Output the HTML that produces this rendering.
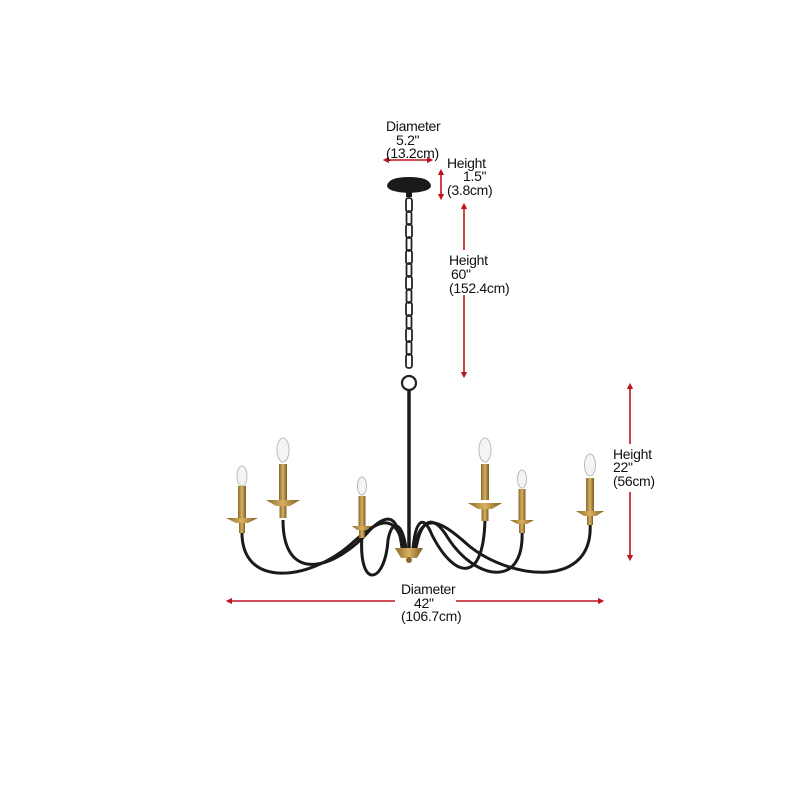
<!DOCTYPE html>
<html><head><meta charset="utf-8"><style>
html,body{margin:0;padding:0;background:#fff;width:800px;height:800px;overflow:hidden}
svg{display:block}
text{font-family:"Liberation Sans",sans-serif;font-size:14px;fill:#111;letter-spacing:-0.3px}
</style></head><body>
<svg width="800" height="800" viewBox="0 0 800 800" xmlns="http://www.w3.org/2000/svg">
<defs>
<linearGradient id="g" x1="0" x2="1"><stop offset="0" stop-color="#8a6a2a"/><stop offset=".5" stop-color="#d8b060"/><stop offset="1" stop-color="#7a5a20"/></linearGradient>
<marker id="a" viewBox="0 0 6 6" refX="3" refY="3" markerWidth="4" markerHeight="4" orient="auto-start-reverse"><path d="M0,0L6,3L0,6z" fill="#c0141e"/></marker>
</defs>
<g stroke="#c0141e" stroke-width="1.6" fill="none">
<line x1="386" y1="160" x2="430" y2="160" marker-start="url(#a)" marker-end="url(#a)"/>
<line x1="441" y1="172" x2="441" y2="197" marker-start="url(#a)" marker-end="url(#a)"/>
<line x1="464" y1="206" x2="464" y2="250" marker-start="url(#a)"/>
<line x1="464" y1="295" x2="464" y2="375" marker-end="url(#a)"/>
<line x1="630" y1="386" x2="630" y2="444" marker-start="url(#a)"/>
<line x1="630" y1="492" x2="630" y2="558" marker-end="url(#a)"/>
<line x1="229" y1="601" x2="395" y2="601" marker-start="url(#a)"/>
<line x1="456" y1="601" x2="601" y2="601" marker-end="url(#a)"/>
</g>
<text x="386" y="131">Diameter</text>
<text x="396" y="145">5.2"</text>
<text x="386" y="158">(13.2cm)</text>
<text x="447" y="168">Height</text>
<text x="463" y="181">1.5"</text>
<text x="447" y="195">(3.8cm)</text>
<text x="449" y="265">Height</text>
<text x="451" y="279">60"</text>
<text x="449" y="293">(152.4cm)</text>
<text x="613" y="459">Height</text>
<text x="613" y="472">22"</text>
<text x="613" y="486">(56cm)</text>
<text x="401" y="594">Diameter</text>
<text x="414" y="608">42"</text>
<text x="401" y="621">(106.7cm)</text>
<path d="M387,186 Q388,177 409,177 Q430,177 431,186 Q430,192 409,193 Q388,192 387,186z" fill="#1a1a1a"/>
<rect x="406" y="192" width="6" height="5" fill="#1a1a1a"/>
<g fill="none" stroke="#222" stroke-width="1.8">
<rect x="406" y="198" width="6" height="14" rx="2.5"/><rect x="406.5" y="211" width="5" height="14" rx="2.5"/>
<rect x="406" y="224" width="6" height="14" rx="2.5"/><rect x="406.5" y="237" width="5" height="14" rx="2.5"/>
<rect x="406" y="250" width="6" height="14" rx="2.5"/><rect x="406.5" y="263" width="5" height="14" rx="2.5"/>
<rect x="406" y="276" width="6" height="14" rx="2.5"/><rect x="406.5" y="289" width="5" height="14" rx="2.5"/>
<rect x="406" y="302" width="6" height="14" rx="2.5"/><rect x="406.5" y="315" width="5" height="14" rx="2.5"/>
<rect x="406" y="328" width="6" height="14" rx="2.5"/><rect x="406.5" y="341" width="5" height="14" rx="2.5"/>
<rect x="406" y="354" width="6" height="14" rx="2.5"/>
<circle cx="409" cy="383" r="7" stroke-width="2.2"/>
</g>
<line x1="409" y1="390" x2="409" y2="548" stroke="#1a1a1a" stroke-width="3.5"/>
<g fill="none" stroke="#1a1a1a" stroke-width="3">
<path d="M242,530 C240,590 310,580 350,545 C380,518 395,512 404,548"/>
<path d="M283,520 C283,585 335,570 370,530 C388,512 398,515 402,548"/>
<path d="M362,535 C358,590 385,585 388,540 C392,518 402,522 406,548"/>
<path d="M485,515 C485,585 455,580 432,535 C424,515 416,518 413,548"/>
<path d="M522,530 C525,590 475,580 448,538 C434,515 422,516 416,548"/>
<path d="M590,522 C595,590 510,580 468,545 C438,518 422,512 414,548"/>
</g>
<path d="M395,548 L423,548 L417,558 L401,558z" fill="url(#g)"/>
<circle cx="409" cy="560" r="3" fill="#8a6a2a"/>
<g transform="translate(242,0)"><ellipse cx="0" cy="476" rx="5" ry="10" fill="#f4f4f4" stroke="#bbb"/><rect x="-4" y="486" width="8" height="32" fill="url(#g)"/><path d="M-16,518 L16,518 L6,523 L-6,523z" fill="url(#g)"/><rect x="-3" y="523" width="6" height="10" fill="url(#g)"/></g>
<g transform="translate(283,0)"><ellipse cx="0" cy="450" rx="6" ry="12" fill="#f4f4f4" stroke="#bbb"/><rect x="-4" y="464" width="8" height="36" fill="url(#g)"/><path d="M-17,500 L17,500 L7,506 L-7,506z" fill="url(#g)"/><rect x="-3.5" y="506" width="7" height="12" fill="url(#g)"/></g>
<g transform="translate(362,0)"><ellipse cx="0" cy="486" rx="4.5" ry="9" fill="#f4f4f4" stroke="#bbb"/><rect x="-3.5" y="496" width="7" height="30" fill="url(#g)"/><path d="M-10,526 L10,526 L5,530 L-5,530z" fill="url(#g)"/><rect x="-3" y="530" width="6" height="8" fill="url(#g)"/></g>
<g transform="translate(485,0)"><ellipse cx="0" cy="450" rx="6" ry="12" fill="#f4f4f4" stroke="#bbb"/><rect x="-4" y="464" width="8" height="36" fill="url(#g)"/><path d="M-17,503 L17,503 L7,509 L-7,509z" fill="url(#g)"/><rect x="-3.5" y="509" width="7" height="12" fill="url(#g)"/></g>
<g transform="translate(522,0)"><ellipse cx="0" cy="479" rx="4.5" ry="9" fill="#f4f4f4" stroke="#bbb"/><rect x="-3.5" y="489" width="7" height="31" fill="url(#g)"/><path d="M-12,520 L12,520 L5,524 L-5,524z" fill="url(#g)"/><rect x="-3" y="524" width="6" height="9" fill="url(#g)"/></g>
<g transform="translate(590,0)"><ellipse cx="0" cy="465" rx="5.5" ry="11" fill="#f4f4f4" stroke="#bbb"/><rect x="-4" y="478" width="8" height="33" fill="url(#g)"/><path d="M-14,511 L14,511 L6,516 L-6,516z" fill="url(#g)"/><rect x="-3" y="516" width="6" height="9" fill="url(#g)"/></g>
</svg>
</body></html>
